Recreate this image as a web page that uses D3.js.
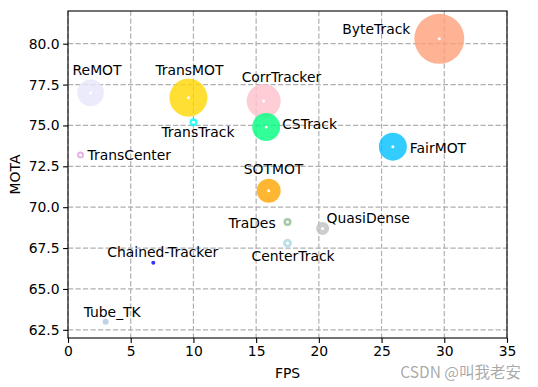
<!DOCTYPE html>
<html>
<head>
<meta charset="utf-8">
<script src="https://cdn.jsdelivr.net/npm/d3@7"></script>
<style>
  body { margin: 0; background: #fff; }
  svg { display: block; font-family: "DejaVu Sans", sans-serif; }
</style>
</head>
<body>
<svg id="chart" width="538" height="387"></svg>
<script>
// tracker names, speed (FPS), accuracy (MOTA) and bubble weight
const trackers = ["ReMOT", "TransMOT", "TransTrack", "TransCenter", "CorrTracker", "CSTrack", "SOTMOT",
    "ByteTrack", "FairMOT", "TraDes", "CenterTrack", "QuasiDense", "Chained-Tracker", "Tube_TK"];
const fps = [1.8, 9.6, 10.0, 1.0, 15.6, 15.8, 16.0, 29.6, 25.9, 17.5, 17.5, 20.3, 6.8, 3.0];
const mota = [77.0, 76.7, 75.2, 73.2, 76.5, 74.9, 71.0, 80.3, 73.7, 69.1, 67.8, 68.7, 66.6, 63.0];
const weight = [177, 361, 16, 12, 289, 196, 144, 625, 196, 16, 20, 42, 4, 9];
const xTicks = [0, 5, 10, 15, 20, 25, 30, 35];
const yTicks = [62.5, 65.0, 67.5, 70.0, 72.5, 75.0, 77.5, 80.0];

const colors = {
    "ReMOT": "#e6e6fa", "TransMOT": "#ffd700", "TransTrack": "#00ffff", "TransCenter": "#dda0dd",
    "CorrTracker": "#ffc0cb", "CSTrack": "#00ff7f", "SOTMOT": "#ffa500", "ByteTrack": "#ffa07a",
    "FairMOT": "#00bfff", "TraDes": "#8fbc8f", "CenterTrack": "#add8e6", "QuasiDense": "#c0c0c0",
    "Chained-Tracker": "#0000ff", "Tube_TK": "#b0c4de"
};

// label offsets from the bubble centre, in pixels (left edge, baseline)
const labelOffset = {
    "ReMOT": [-18, -18], "TransMOT": [-33, -23], "TransTrack": [-32, 15], "TransCenter": [7, 5.5],
    "CorrTracker": [-22, -19], "CSTrack": [16, 1.5], "SOTMOT": [-25, -17], "ByteTrack": [-97, -5],
    "FairMOT": [17, 6], "TraDes": [-59, 6], "CenterTrack": [-36, 18], "QuasiDense": [4, -5.5],
    "Chained-Tracker": [-46, -6], "Tube_TK": [-22, -5]
};

const data = trackers.map((name, i) => ({ name: name, fps: fps[i], mota: mota[i], weight: weight[i] }));

const svg = d3.select("#chart");
const margin = { top: 11, right: 31, bottom: 49, left: 68 };
const width = 538 - margin.left - margin.right;
const height = 387 - margin.top - margin.bottom;

const chartArea = svg.append("g")
    .attr("transform", `translate(${margin.left}, ${margin.top})`);

const x = d3.scaleLinear().domain([0, 35]).range([0, width]);
const y = d3.scaleLinear().domain([62, 82]).range([height, 0]);
const r = d3.scaleSqrt().domain([0, 625]).range([0, 25]);

// grid
const gridStyle = g => g
    .attr("stroke", "#b0b0b0")
    .attr("stroke-width", 1.2)
    .attr("stroke-dasharray", "5.2,2.3");

chartArea.append("g").call(gridStyle)
    .selectAll("line")
    .data(xTicks)
    .join("line")
    .attr("x1", d => x(d)).attr("x2", d => x(d))
    .attr("y1", 0).attr("y2", height);

chartArea.append("g").call(gridStyle)
    .selectAll("line")
    .data(yTicks)
    .join("line")
    .attr("x1", 0).attr("x2", width)
    .attr("y1", d => y(d)).attr("y2", d => y(d));

// bubbles
chartArea.selectAll("circle.bubble")
    .data(data)
    .join("circle")
    .attr("class", "bubble")
    .attr("cx", d => x(d.fps))
    .attr("cy", d => y(d.mota))
    .attr("r", d => r(d.weight))
    .attr("fill", d => colors[d.name])
    .attr("fill-opacity", 0.8);

// white centre dots
chartArea.selectAll("circle.dot")
    .data(data.filter(d => r(d.weight) >= 3.4))
    .join("circle")
    .attr("class", "dot")
    .attr("cx", d => x(d.fps))
    .attr("cy", d => y(d.mota))
    .attr("r", 1.5)
    .attr("fill", "#fff");

// labels
chartArea.selectAll("text.label")
    .data(data)
    .join("text")
    .attr("class", "label")
    .attr("x", d => x(d.fps) + labelOffset[d.name][0])
    .attr("y", d => y(d.mota) + labelOffset[d.name][1])
    .attr("font-size", 13.9)
    .attr("fill", "#000")
    .text(d => d.name);

// axes
const xAxis = chartArea.append("g")
    .attr("transform", `translate(0, ${height})`)
    .call(d3.axisBottom(x).tickValues(xTicks).tickSize(4.9).tickPadding(3.5));
const yAxis = chartArea.append("g")
    .call(d3.axisLeft(y).tickValues(yTicks).tickFormat(d3.format(".1f")).tickSize(4.9).tickPadding(3.5));

[xAxis, yAxis].forEach(a => {
    a.selectAll("text").attr("font-size", 13.9).attr("font-family", '"DejaVu Sans"').attr("fill", "#000");
    a.selectAll("line").attr("stroke", "#000").attr("stroke-width", 1.1);
    a.select(".domain").remove();
});

// frame
chartArea.append("rect")
    .attr("width", width)
    .attr("height", height)
    .attr("fill", "none")
    .attr("stroke", "#000")
    .attr("stroke-width", 1.1);

// axis titles
svg.append("text")
    .attr("x", margin.left + width / 2)
    .attr("y", 378)
    .attr("text-anchor", "middle")
    .attr("font-size", 13.9)
    .text("FPS");

svg.append("text")
    .attr("transform", `translate(20, ${margin.top + height / 2}) rotate(-90)`)
    .attr("text-anchor", "middle")
    .attr("font-size", 13.9)
    .text("MOTA");

// watermark
svg.append("text")
    .attr("x", 521)
    .attr("y", 378)
    .attr("text-anchor", "end")
    .attr("font-size", 15.5)
    .attr("font-family", '"Noto Sans CJK SC", sans-serif')
    .attr("fill", "#9a9a9a")
    .attr("fill-opacity", 0.85)
    .text("CSDN @叫我老安");
</script>
</body>
</html>
